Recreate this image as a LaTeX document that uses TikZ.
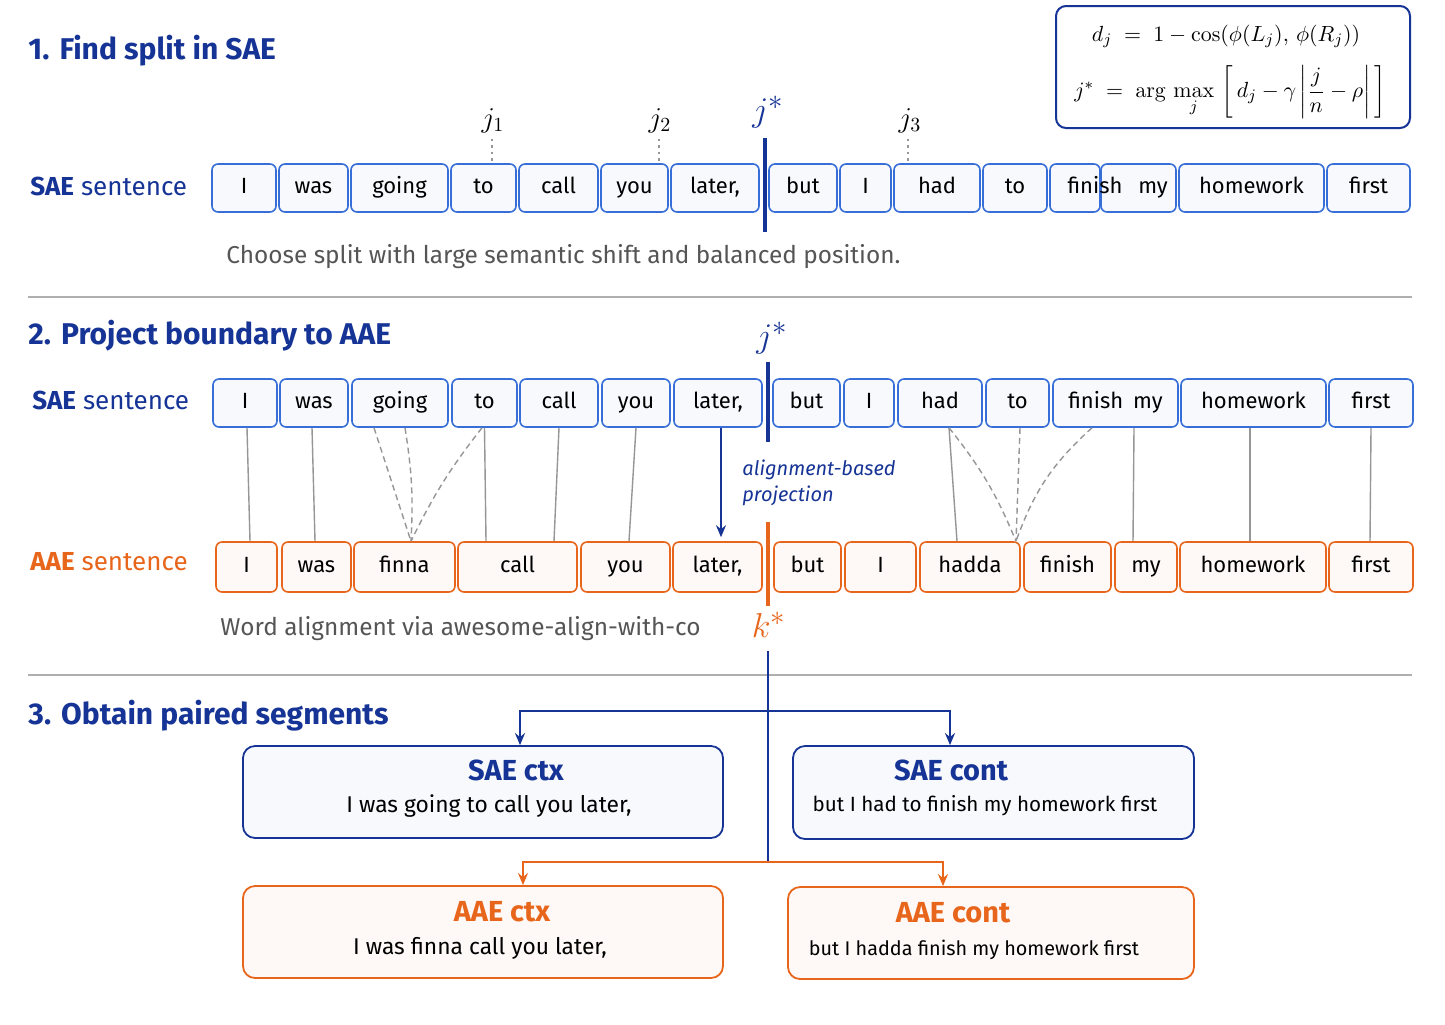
\documentclass[tikz,border=0pt]{standalone}
\usepackage{amsmath}
\usepackage[no-math]{fontspec}
\setmainfont{Fira Sans}
\usetikzlibrary{arrows.meta}
\definecolor{navy}{RGB}{22,52,150}
\definecolor{tokb}{RGB}{55,110,215}
\definecolor{orng}{RGB}{232,102,28}
\definecolor{txtgray}{RGB}{85,85,85}
\definecolor{lngray}{RGB}{150,150,150}
\definecolor{sepgray}{RGB}{175,175,175}
\newcommand\tokbox[6]{%
  \pgfmathsetmacro\tbw{(#4-#3)*0.5}%
  \pgfmathsetmacro\tbc{(#3+#4)/2}%
  \node[#2, minimum width=\tbw pt] (#1) at (\tbc,#5) {#6};}
\begin{document}
\begin{tikzpicture}[x=0.5pt,y=-0.5pt,
  tokS/.style={draw=tokb, line width=0.8pt, rounded corners=3pt, fill=tokb!4,
    minimum height=24pt, inner sep=0pt, font=\fontsize{11}{13}\selectfont,
    text height=8pt, text depth=2.3pt},
  tokA/.style={tokS, draw=orng, fill=orng!4, minimum height=25pt},
  heading/.style={anchor=west, inner sep=0pt, text=navy, font=\fontsize{15}{17}\selectfont\bfseries},
  rowlab/.style={anchor=west, inner sep=0pt, font=\fontsize{13}{15}\selectfont},
  caption/.style={anchor=west, inner sep=0pt, text=txtgray, font=\fontsize{12.2}{14}\selectfont},
  toktext/.style={font=\fontsize{11}{13}\selectfont, inner sep=0pt, text height=8pt, text depth=2.3pt},
  sepline/.style={draw=sepgray, line width=0.75pt},
  splitS/.style={draw=navy, line width=2pt},
  splitA/.style={draw=orng, line width=2pt},
  jlab/.style={font=\fontsize{14}{16}\selectfont, inner sep=1pt},
  starS/.style={text=navy, font=\fontsize{19}{21}\selectfont, inner sep=1pt},
  starA/.style={text=orng, font=\fontsize{19}{21}\selectfont, inner sep=1pt},
  dotl/.style={draw=lngray, line width=1.2pt, dotted},
  alnS/.style={draw=lngray, line width=0.7pt},
  alnD/.style={draw=lngray, line width=0.7pt, dash pattern=on 3pt off 2pt},
  segS/.style={draw=navy, line width=0.9pt, rounded corners=6pt, fill=tokb!4, inner sep=0pt},
  segA/.style={draw=orng, line width=0.9pt, rounded corners=6pt, fill=orng!4, inner sep=0pt},
  segtitleS/.style={text=navy, font=\fontsize{14.5}{16}\selectfont\bfseries},
  segtitleA/.style={text=orng, font=\fontsize{14.5}{16}\selectfont\bfseries},
  segbody/.style={font=\fontsize{11.4}{13}\selectfont},
  brS/.style={draw=navy, line width=1pt, -{Stealth[length=6pt,width=5pt]}},
  brA/.style={draw=orng, line width=1pt, -{Stealth[length=6pt,width=5pt]}},
  formtext/.style={font=\fontsize{11.2}{13}\selectfont, inner sep=1pt},
]
\useasboundingbox[fill=white] (0,0) rectangle (1445,1024);

% ---------- section 1 ----------
\node[heading] (h1) at (28,51) {1.\hspace{5pt}Find split in SAE};
\node[rowlab, text=navy] (l1) at (30,186) {{\bfseries SAE} sentence};

\node[draw=navy, line width=1pt, rounded corners=5pt, fill=white,
  minimum width=177pt, minimum height=61pt, inner sep=0pt] (form) at (1233,67) {};
\node[formtext] (f1) at (1226,36) {$d_j \;=\; 1-\cos(\phi(L_j),\,\phi(R_j))$};
\node[formtext] (f2) at (1230,92) {$j^{*} \;=\; \mathrm{arg}\,\max\limits_{j}\,\left[\,d_j-\gamma\left|\dfrac{j}{n}-\rho\right|\,\right]$};

\tokbox{a1}{tokS}{212}{276}{188}{I}
\tokbox{a2}{tokS}{279}{348}{188}{was}
\tokbox{a3}{tokS}{351}{448}{188}{going}
\tokbox{a4}{tokS}{451}{516}{188}{to}
\tokbox{a5}{tokS}{519}{598}{188}{call}
\tokbox{a6}{tokS}{601}{668}{188}{you}
\tokbox{a7}{tokS}{671}{759}{188}{later,}
\tokbox{a8}{tokS}{769}{837}{188}{but}
\tokbox{a9}{tokS}{840}{891}{188}{I}
\tokbox{a10}{tokS}{894}{980}{188}{had}
\tokbox{a11}{tokS}{983}{1047}{188}{to}
\tokbox{a12}{tokS}{1050}{1100}{188}{}
\tokbox{a13}{tokS}{1101}{1176}{188}{}
\tokbox{a14}{tokS}{1179}{1324}{188}{homework}
\tokbox{a15}{tokS}{1327}{1410}{188}{first}
\node[toktext] (a12t) at (1095,188) {finish};
\node[toktext] (a13t) at (1153,188) {my};

\node[jlab] (j1) at (493,121) {$j_1$};
\node[jlab] (j2) at (660,121) {$j_2$};
\node[jlab] (j3) at (910,121) {$j_3$};
\node[starS] (js1) at (768,112) {$j^{*}$};
\coordinate (d1a) at (492,139); \coordinate (d2a) at (659,139); \coordinate (d3a) at (908,139);
\draw[dotl] (d1a) -- (a4.north -| d1a);
\draw[dotl] (d2a) -- (a6.north -| d2a);
\draw[dotl] (d3a) -- (a10.north -| d3a);
\coordinate (s1t) at (765,138); \coordinate (s1b) at (765,232);
\draw[splitS] (s1t) -- (s1b);

\node[caption] (c1) at (226,257) {Choose split with large semantic shift and balanced position.};

\coordinate (sepa1) at (28,297); \coordinate (sepa2) at (1412,297);
\draw[sepline] (sepa1) -- (sepa2);

% ---------- section 2 ----------
\node[heading] (h2) at (28,336) {2.\hspace{5pt}Project boundary to AAE};
\node[rowlab, text=navy] (l2) at (32,400) {{\bfseries SAE} sentence};
\node[rowlab, text=orng] (l3) at (30,562) {{\bfseries AAE} sentence};
\node[starS] (js2) at (772,338) {$j^{*}$};

\tokbox{b1}{tokS}{213}{277}{403}{I}
\tokbox{b2}{tokS}{280}{348}{403}{was}
\tokbox{b3}{tokS}{352}{448}{403}{going}
\tokbox{b4}{tokS}{452}{517}{403}{to}
\tokbox{b5}{tokS}{520}{598}{403}{call}
\tokbox{b6}{tokS}{602}{670}{403}{you}
\tokbox{b7}{tokS}{674}{762}{403}{later,}
\tokbox{b8}{tokS}{773}{840}{403}{but}
\tokbox{b9}{tokS}{844}{894}{403}{I}
\tokbox{b10}{tokS}{898}{982}{403}{had}
\tokbox{b11}{tokS}{986}{1049}{403}{to}
\tokbox{b12}{tokS}{1053}{1178}{403}{finish\hspace{5pt}my}
\tokbox{b13}{tokS}{1181}{1326}{403}{homework}
\tokbox{b14}{tokS}{1329}{1413}{403}{first}

\tokbox{c1}{tokA}{216}{277}{567}{I}
\tokbox{c2}{tokA}{282}{351}{567}{was}
\tokbox{c3}{tokA}{354}{455}{567}{finna}
\tokbox{c4}{tokA}{458}{577}{567}{call}
\tokbox{c5}{tokA}{581}{670}{567}{you}
\tokbox{c6}{tokA}{673}{762}{567}{later,}
\tokbox{c7}{tokA}{774}{841}{567}{but}
\tokbox{c8}{tokA}{845}{916}{567}{I}
\tokbox{c9}{tokA}{920}{1020}{567}{hadda}
\tokbox{c10}{tokA}{1024}{1111}{567}{finish}
\tokbox{c11}{tokA}{1115}{1177}{567}{my}
\tokbox{c12}{tokA}{1180}{1326}{567}{homework}
\tokbox{c13}{tokA}{1329}{1413}{567}{first}

\coordinate (s2t) at (768,362); \coordinate (s2b) at (768,442);
\draw[splitS] (s2t) -- (s2b);
\coordinate (s3t) at (768,522); \coordinate (s3b) at (768,606);
\draw[splitA] (s3t) -- (s3b);

% alignment links
\draw[alnS] ([xshift=1pt]b1.south) -- ([xshift=1.75pt]c1.north);
\draw[alnS] ([xshift=-1pt]b2.south) -- ([xshift=-0.75pt]c2.north);
\draw[alnD] ([xshift=-13pt]b3.south) -- ([xshift=3.25pt]c3.north);
\draw[alnD] ([xshift=2.5pt]b3.south) to[bend left=6] ([xshift=3.25pt]c3.north);
\draw[alnD] ([xshift=-1.25pt]b4.south) to[bend right=6] ([xshift=3.25pt]c3.north);
\draw[alnS] (b4.south) -- ([xshift=-15.75pt]c4.north);
\draw[alnS] (b5.south) -- ([xshift=18.25pt]c4.north);
\draw[alnS] (b6.south) -- ([xshift=1.75pt]c5.north);
\draw[alnS] ([xshift=4.5pt]b10.south) -- ([xshift=-6.5pt]c9.north);
\draw[alnD] ([xshift=4.5pt]b10.south) to[bend left=8] ([xshift=23pt]c9.north);
\draw[alnD] ([xshift=1.25pt]b11.south) -- ([xshift=23pt]c9.north);
\draw[alnD] ([xshift=-11.75pt]b12.south) to[bend right=14] ([xshift=23pt]c9.north);
\draw[alnS] ([xshift=9.25pt]b12.south) -- ([xshift=-6.5pt]c11.north);
\draw[alnS] ([xshift=-1.75pt]b13.south) -- ([xshift=-1.5pt]c12.north);
\draw[alnS] (b14.south) -- ([xshift=-0.5pt]c13.north);

\draw[brS] ([xshift=1.5pt]b7.south) -- ([xshift=1.75pt,yshift=2pt]c6.north);
\node[anchor=north west, align=left, text=navy, inner sep=0pt,
  font=\fontsize{10}{13}\selectfont\itshape] (proj) at (742,459) {alignment-based\\projection};

\node[caption] (c2cap) at (220,629) {Word alignment via awesome-align-with-co};
\node[starA] (ks) at (769,625) {$k^{*}$};

\coordinate (sepb1) at (28,675); \coordinate (sepb2) at (1412,675);
\draw[sepline] (sepb1) -- (sepb2);

% ---------- section 3 ----------
\node[heading] (h3) at (28,716) {3.\hspace{5pt}Obtain paired segments};

\node[segS, minimum width=240pt, minimum height=46pt] (sctx) at (483,792) {};
\node[segS, minimum width=200.5pt, minimum height=46.5pt] (scont) at (993.5,792.5) {};
\node[segA, minimum width=240pt, minimum height=46pt] (actx) at (483,932) {};
\node[segA, minimum width=203pt, minimum height=46pt] (acont) at (991,933) {};

\node[segtitleS] (sctxt) at (516,770) {SAE ctx};
\node[segbody] (sctxb) at (489,806) {I was going to call you later,};
\node[segtitleS] (scontt) at (951,770) {SAE cont};
\node[font=\fontsize{10.3}{12}\selectfont] (scontb) at (985,806) {but I had to finish my homework first};
\node[segtitleA] (actxt) at (502,912) {AAE ctx};
\node[segbody] (actxb) at (480,948) {I was finna call you later,};
\node[segtitleA] (acontt) at (953,913) {AAE cont};
\node[font=\fontsize{9.9}{12}\selectfont] (acontb) at (974,950) {but I hadda finish my homework first};

\coordinate (vtop) at (768,651);
\coordinate (bj) at (768,711);
\coordinate (oj) at (768,862);
\draw[navy, line width=1pt] (vtop) -- (oj);
\draw[brS] (bj) -| ([xshift=18.5pt]sctx.north);
\draw[brS] (bj) -| ([xshift=-21.75pt]scont.north);
\draw[brA] (oj) -| ([xshift=20pt]actx.north);
\draw[brA] (oj) -| ([xshift=-24pt]acont.north);
\end{tikzpicture}
\end{document}
